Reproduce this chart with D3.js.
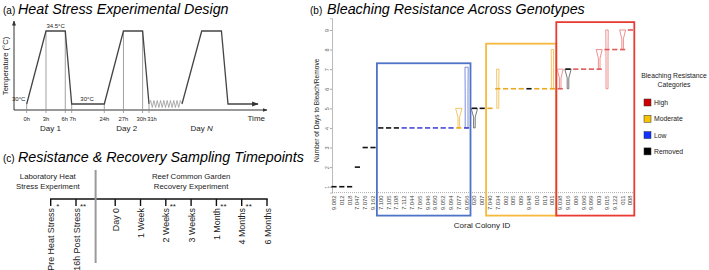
<!DOCTYPE html>
<html><head><meta charset="utf-8">
<script src="https://cdn.jsdelivr.net/npm/d3@7"></script>
<style>
body{margin:0;background:#fff}
svg{display:block;font-family:"Liberation Sans",Arial,sans-serif}
</style>
</head><body>
<svg id="c" width="709" height="270"></svg>
<script>
// ================= DATA =================
// (a) heat stress profile
const profileHours = [0, 3, 6, 7, 24, 27, 30, 31];
const profileTemps = [30, 34.5, 34.5, 30, 30, 34.5, 34.5, 30];
const dayNHours = [48, 51, 54, 55, 72];
const dayNTemps = [30, 34.5, 34.5, 30, 30];
const hourTickLabels = ["0h", "3h", "6h", "7h", "24h", "27h", "30h", "31h"];
const dayLabels = ["Day 1", "Day 2", "Day "];
const dayLabelHours = [3.7, 27.5, 51];
const tempNotes = ["30°C", "34.5°C", "30°C"];
const tempNoteHours = [-0.2, 4.5, 15];
const tempNoteValues = [30, 34.5, 30];

// (b) bleaching resistance
const colonyIds = ["9.082","012","018","7.047","7.076","9.162","7.100","7.105","7.108","7.112","7.044","7.065","9.046","9.050","9.052","9.094","7.077","9.056","020","007","7.040","7.034","002","005","009","9.048","010","013","001","9.038","9.016","006","9.060","9.099","003","9.015","9.122","011","008"];
const daysToBleach = [1,1,1,2,3,3,4,4,4,4,4,4,4,4,4,4,4,4,5,5,5,6,6,6,6,6,6,6,6,6,7,7,7,7,7,8,8,8,9];
const colonyCategory = ["Removed","Removed","Removed","Removed","Removed","Removed","Removed","Removed","Removed","Low","Low","Low","Low","Low","Low","Low","Moderate","Low","Removed","Removed","Moderate","Moderate","Moderate","Moderate","Moderate","Removed","Moderate","Moderate","Moderate","High","Removed","High","High","High","High","High","High","High","High"];
// spread of fragments (violins)
const violinIds = ["7.077","9.056","020","7.034","001","9.038","9.016","003","9.015","011"];
const violinLow = [4, 4, 4, 5, 6, 6, 6, 7, 6, 8];
const violinHigh = [5, 7.1, 5, 7, 8, 7, 7, 8, 9, 9];
const violinShareHigh = [0.6, 0.2, 0.6, 0.1, 0.1, 0.55, 0.6, 0.55, 0.1, 0.55];
const violinShareLow = [0.05, 0.2, 0.05, 0.1, 0.1, 0.05, 0.05, 0.05, 0.1, 0.05];
const boxCategories = ["Low", "Moderate", "High"];
const boxFirst = ["7.100", "7.040", "9.038"];
const boxLast = ["9.056", "001", "008"];
const boxTopDays = [7.3, 8.3, 9.4];
const dayTicks = [1, 2, 3, 4, 5, 6, 7, 8, 9];
const legendLabels = ["High", "Moderate", "Low", "Removed"];

// (c) sampling timepoints
const timepoints = ["Pre Heat Stress","16h Post Stress","Day 0","1 Week","2 Weeks","3 Weeks","1 Month","4 Months","6 Months"];
const timepointPhase = ["lab","lab","reef","reef","reef","reef","reef","reef","reef"];
const timepointMarks = ["*","**","","","**","","**","**",""];
const phaseTitles = [["Laboratory Heat","Stress Experiment"],["Reef Common Garden","Recovery Experiment"]];

// ================= STYLE =================
const dashColor = {High:"#e05a5a", Moderate:"#e8a820", Low:"#4646d2", Removed:"#111"};
const violinColor = {High:"#e87474", Moderate:"#f0b840", Low:"#5b6fd6", Removed:"#555"};
const boxColor = {Low:"#4d74c6", Moderate:"#f7b93c", High:"#ea3b32"};
const legendColor = {High:"#d10000", Moderate:"#f7c200", Low:"#1232ff", Removed:"#000"};
const hourLabelNudge = [0, 0, -0.5, 1, 0, 0, -1.2, 3];

const svg = d3.select("#c");
const defs = svg.append("defs");
defs.append("marker").attr("id","arr").attr("viewBox","0 0 10 10").attr("refX",9).attr("refY",5)
  .attr("markerWidth",5).attr("markerHeight",5).attr("orient","auto-start-reverse")
  .append("path").attr("d","M0,1L10,5L0,9z").attr("fill","#333");

// ================= PANEL A =================
const xa = d3.scaleLinear().domain([0,7,24,31,48,55,72]).range([26.7,71.7,104.3,149,182,228,258]);
const ya = d3.scaleLinear().domain([30,34.5]).range([104,31]);
const ga = svg.append("g");
ga.append("text").attr("x",3).attr("y",13.5).attr("font-size",10).text("(a)");
ga.append("text").attr("x",18).attr("y",13.5).attr("font-size",14.3).attr("font-style","italic").text("Heat Stress Experimental Design");
// axes
ga.append("line").attr("x1",14).attr("y1",110).attr("x2",14).attr("y2",21)
  .attr("stroke","#333").attr("stroke-width",1).attr("marker-end","url(#arr)");
ga.append("line").attr("x1",14).attr("y1",110).attr("x2",267).attr("y2",110)
  .attr("stroke","#333").attr("stroke-width",1).attr("marker-end","url(#arr)");
// drop lines
profileHours.forEach((h,i)=>{
  ga.append("line").attr("x1",xa(h)).attr("x2",xa(h)).attr("y1",ya(profileTemps[i])).attr("y2",113)
    .attr("stroke","#8a8a8a").attr("stroke-width",0.8);
});
const la = d3.line().x(d=>xa(d[0])).y(d=>ya(d[1]));
ga.append("path").attr("d",la(profileHours.map((h,i)=>[h,profileTemps[i]])))
  .attr("fill","none").attr("stroke","#444").attr("stroke-width",1.3);
ga.append("path").attr("d",la(dayNHours.map((h,i)=>[h,dayNTemps[i]])))
  .attr("fill","none").attr("stroke","#444").attr("stroke-width",1.3).attr("marker-end","url(#arr)");
// zigzag break
const zz = [];
const nz = 20;
for(let k=0;k<=nz;k++){ const t = 31 + (48-31)*k/nz; zz.push([xa(t), ya(30) + (k===0||k===nz?0:(k%2?-3.5:3.5))]); }
ga.append("path").attr("d",d3.line()(zz)).attr("fill","none").attr("stroke","#999").attr("stroke-width",0.8);
// labels
ga.selectAll(".hl").data(profileHours).join("text").attr("x",(d,i)=>xa(d)+hourLabelNudge[i]).attr("y",120.5)
  .attr("text-anchor","middle").attr("font-size",5.8).attr("fill","#222").text((d,i)=>hourTickLabels[i]);
dayLabels.forEach((t,i)=>{
  const tx = ga.append("text").attr("x",xa(dayLabelHours[i])).attr("y",130.5).attr("text-anchor","middle")
    .attr("font-size",8).attr("fill","#222").text(t);
  if(i===2) tx.append("tspan").attr("font-style","italic").text("N");
});
tempNotes.forEach((t,i)=>{
  ga.append("text").attr("x",xa(tempNoteHours[i])).attr("y",ya(tempNoteValues[i])-3)
    .attr("text-anchor", i===0?"end":"middle").attr("font-size",6).attr("fill","#222").text(t);
});
ga.append("text").attr("transform","translate(8,66) rotate(-90)").attr("text-anchor","middle")
  .attr("font-size",7.6).attr("fill","#222").text("Temperature (°C)");
ga.append("text").attr("x",265).attr("y",121).attr("text-anchor","end").attr("font-size",8).attr("fill","#222").text("Time");

// ================= PANEL B =================
const gb = svg.append("g");
gb.append("text").attr("x",310).attr("y",13.5).attr("font-size",10).text("(b)");
gb.append("text").attr("x",327).attr("y",13.5).attr("font-size",14.3).attr("font-style","italic").text("Bleaching Resistance Across Genotypes");
const xb = d3.scalePoint().domain(colonyIds).range([334,630.4]);
const stepB = xb.step();
const yb = d3.scaleLinear().domain([0.7,9.6]).range([192.6,18.2]);
// y axis
const yAxis = gb.append("g").attr("transform","translate(332,0)")
  .call(d3.axisLeft(yb).tickValues(dayTicks).tickSize(2).tickPadding(3).tickFormat(d3.format("d")));
yAxis.select(".domain").attr("stroke","#aaa").attr("stroke-width",0.8);
yAxis.selectAll(".tick line").attr("stroke","#aaa");
yAxis.selectAll(".tick text").attr("font-size",5.5).attr("fill","#666").attr("font-family","Liberation Sans, Arial")
  .attr("text-anchor","middle").attr("dy",0).attr("transform","translate(-5,0) rotate(-90)").attr("x",0).attr("y",2);
// x baseline (dotted)
gb.append("line").attr("x1",332).attr("x2",636).attr("y1",yb(0.7)).attr("y2",yb(0.7))
  .attr("stroke","#999").attr("stroke-width",0.8).attr("stroke-dasharray","1,1");
// x labels
gb.selectAll(".xl").data(colonyIds).join("text")
  .attr("transform",d=>`translate(${xb(d)},${yb(0.7)+3}) rotate(-90)`)
  .attr("text-anchor","end").attr("dy","0.35em").attr("font-size",5.8).attr("fill","#444").text(d=>d);
// boxes
boxCategories.forEach((c,i)=>{
  const x0 = xb(boxFirst[i]) - stepB/2, x1 = xb(boxLast[i]) + stepB/2;
  gb.append("rect").attr("x",x0).attr("y",yb(boxTopDays[i])).attr("width",x1-x0)
    .attr("height",yb(0.7)+23 - yb(boxTopDays[i]))
    .attr("fill","none").attr("stroke",boxColor[c]).attr("stroke-width",1.8);
});
// violins
violinIds.forEach((id,i)=>{
  const cx = xb(id);
  const cat = colonyCategory[colonyIds.indexOf(id)];
  const yH = yb(violinHigh[i]), yL = yb(violinLow[i]);
  const wT = 0.8 + 4*violinShareHigh[i], wB = 0.6 + 4*violinShareLow[i];
  const yM = yH + (yL-yH)*0.45;
  const pts = [[cx-wT,yH],[cx+wT,yH],[cx+wB,yM],[cx+wB,yL],[cx-wB,yL],[cx-wB,yM]];
  gb.append("path").attr("d",d3.line()(pts)+"Z").attr("fill","#fff")
    .attr("stroke",violinColor[cat]).attr("stroke-width",0.8);
});
// median dashes
gb.selectAll(".dash").data(colonyIds).join("line")
  .attr("x1",d=>xb(d)-2.6).attr("x2",d=>xb(d)+2.6)
  .attr("y1",(d,i)=>yb(daysToBleach[i])).attr("y2",(d,i)=>yb(daysToBleach[i]))
  .attr("stroke",(d,i)=>dashColor[colonyCategory[i]]).attr("stroke-width",1.6);
gb.append("text").attr("transform",`translate(319,${yb(4.9)}) rotate(-90)`).attr("text-anchor","middle")
  .attr("font-size",6.6).attr("fill","#222").text("Number of Days to Bleach/Remove");
gb.append("text").attr("x",482).attr("y",228).attr("text-anchor","middle").attr("font-size",8).attr("fill","#222").text("Coral Colony ID");
// legend
gb.append("text").attr("x",674).attr("y",78).attr("text-anchor","middle").attr("font-size",6.8).attr("fill","#222").text("Bleaching Resistance");
gb.append("text").attr("x",674).attr("y",87).attr("text-anchor","middle").attr("font-size",6.8).attr("fill","#222").text("Categories");
legendLabels.forEach((l,i)=>{
  const y0 = 99 + i*16.3;
  gb.append("rect").attr("x",644).attr("y",y0).attr("width",7).attr("height",7)
    .attr("fill",legendColor[l]).attr("stroke","#333").attr("stroke-width",0.5);
  gb.append("text").attr("x",654).attr("y",y0+6).attr("font-size",6.8).attr("fill","#222").text(l);
});

// ================= PANEL C =================
const gc = svg.append("g");
gc.append("text").attr("x",3).attr("y",161.5).attr("font-size",10).text("(c)");
gc.append("text").attr("x",18).attr("y",161.5).attr("font-size",14.3).attr("font-style","italic").text("Resistance & Recovery Sampling Timepoints");
const slot = timepoints.map((t,i)=> i + (timepointPhase[i]==="reef"?0.55:0));
const xc = d3.scaleLinear().domain([0, d3.max(slot)]).range([50.7, 267]);
const labIdx = timepointPhase.lastIndexOf("lab");
const divX = (xc(slot[labIdx]) + xc(slot[labIdx+1]))/2;
gc.append("line").attr("x1",xc(0)-0.7).attr("x2",xc(d3.max(slot))+0.7).attr("y1",199).attr("y2",199)
  .attr("stroke","#111").attr("stroke-width",1.4);
gc.append("line").attr("x1",divX).attr("x2",divX).attr("y1",170).attr("y2",263)
  .attr("stroke","#9a9a9a").attr("stroke-width",2);
timepoints.forEach((t,i)=>{
  const x = xc(slot[i]);
  gc.append("line").attr("x1",x).attr("x2",x).attr("y1",199).attr("y2",206).attr("stroke","#111").attr("stroke-width",1.4);
  gc.append("text").attr("transform",`translate(${x+0.5},208) rotate(-90)`).attr("text-anchor","end")
    .attr("dy","0.35em").attr("font-size",8.9).attr("fill","#222").text(t);
  if(timepointMarks[i]) gc.append("text").attr("x",x+7).attr("y",209).attr("text-anchor","middle")
    .attr("font-size",8).attr("fill","#222").text(timepointMarks[i]);
});
const reefX = timepoints.map((t,i)=>xc(slot[i])).filter((x,i)=>timepointPhase[i]==="reef");
const phaseCenters = [divX/2, (d3.min(reefX)+d3.max(reefX))/2];
phaseTitles.forEach((lines,i)=>{
  lines.forEach((l,j)=>{
    gc.append("text").attr("x",phaseCenters[i]).attr("y",179 + j*10).attr("text-anchor","middle")
      .attr("font-size",7.8).attr("fill","#222").text(l);
  });
});
</script>
</body></html>
